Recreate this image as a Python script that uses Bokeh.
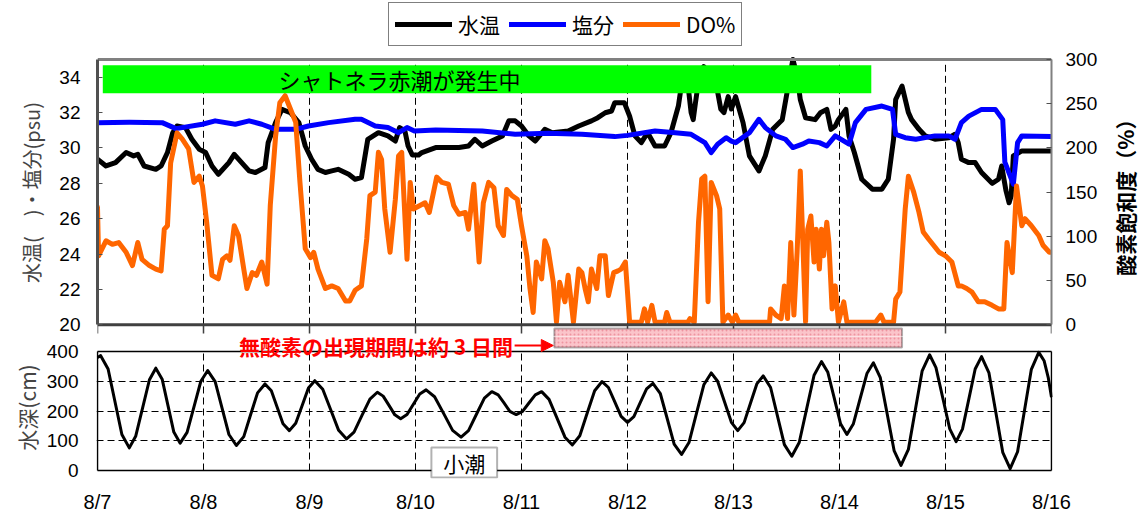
import math
from bokeh.plotting import figure
from bokeh.models import (Range1d, LinearAxis, FixedTicker, Legend, LegendItem,
                          BoxAnnotation, Label, Arrow, NormalHead)
from bokeh.layouts import column, row
from bokeh.core.properties import value
from bokeh.embed import file_html
from bokeh.resources import INLINE

# ---------------- data ----------------
day_ticks = [0, 1, 2, 3, 4, 5, 6, 7, 8, 9]
day_labels = ["8/7", "8/8", "8/9", "8/10", "8/11", "8/12", "8/13", "8/14", "8/15", "8/16"]
temp_ticks = [20, 22, 24, 26, 28, 30, 32, 34]
do_ticks = [0, 50, 100, 150, 200, 250, 300]
depth_ticks = [0, 100, 200, 300, 400]
series_names = ["水温", "塩分", "DO%"]

temp_day = [0.00, 0.08, 0.17, 0.27, 0.34, 0.38, 0.44, 0.55, 0.60, 0.66, 0.71, 0.75, 0.83, 0.89, 0.96,
            1.02, 1.08, 1.14, 1.24, 1.29, 1.36, 1.43, 1.49, 1.58, 1.61, 1.68, 1.74, 1.82, 1.90, 1.96,
            2.02, 2.08, 2.15, 2.21, 2.27, 2.37, 2.43, 2.49, 2.55, 2.65, 2.74, 2.81, 2.85, 2.90, 2.93,
            2.97, 3.03, 3.06, 3.19, 3.41, 3.50, 3.56, 3.63, 3.72, 3.82, 3.88, 3.94, 4.00, 4.07, 4.13,
            4.22, 4.29, 4.44, 4.54, 4.66, 4.72, 4.79, 4.85, 4.88, 4.97, 5.02, 5.07, 5.13, 5.19, 5.26,
            5.35, 5.41, 5.48, 5.52, 5.57, 5.60, 5.62, 5.64, 5.68, 5.72, 5.78, 5.84, 5.88, 5.91, 5.95,
            5.98, 6.02, 6.09, 6.15, 6.24, 6.30, 6.37, 6.46, 6.51, 6.56, 6.60, 6.63, 6.68, 6.77, 6.82,
            6.88, 6.92, 6.96, 6.99, 7.06, 7.09, 7.14, 7.21, 7.31, 7.40, 7.46, 7.51, 7.53, 7.59, 7.65,
            7.68, 7.75, 7.81, 7.90, 8.03, 8.09, 8.12, 8.15, 8.22, 8.28, 8.34, 8.44, 8.50, 8.53, 8.57,
            8.60, 8.62, 8.64, 8.72, 9.00]
temp_c = [29.36, 28.98, 29.17, 29.74, 29.55, 29.64, 28.98, 28.79, 28.98, 29.74, 30.86, 31.24, 31.15, 30.49, 29.92,
          29.74, 28.98, 28.51, 29.17, 29.64, 29.17, 28.70, 28.61, 28.89, 30.30, 31.43, 32.18, 31.99, 31.43, 30.11,
          29.36, 28.79, 28.61, 28.70, 28.79, 28.51, 28.23, 28.32, 30.49, 30.86, 30.68, 30.39, 31.15, 30.96, 30.11,
          29.60, 29.60, 29.74, 30.02, 30.02, 30.11, 30.49, 30.11, 30.39, 30.68, 31.53, 31.53, 31.24, 30.68, 30.39,
          31.05, 30.86, 30.96, 31.24, 31.53, 31.71, 31.99, 32.09, 32.56, 32.56, 31.80, 30.68, 30.30, 30.86, 30.11,
          30.11, 30.86, 32.37, 34.00, 33.60, 32.00, 31.60, 32.50, 34.20, 34.60, 34.00, 33.50, 32.20, 32.00, 32.90,
          32.20, 32.90, 31.43, 29.55, 28.70, 29.55, 31.05, 31.60, 33.30, 35.00, 34.10, 32.74, 31.71, 31.60, 31.99,
          32.18, 31.05, 31.24, 31.60, 32.18, 30.68, 29.74, 28.23, 27.67, 27.67, 28.23, 30.49, 32.74, 33.50, 32.00,
          31.60, 31.05, 30.68, 30.49, 30.58, 30.77, 30.30, 29.36, 29.17, 29.17, 28.61, 28.00, 28.23, 28.98, 27.60,
          26.90, 27.30, 29.55, 29.83, 29.83]

sal_day = [0.00, 0.30, 0.61, 0.74, 0.99, 1.11, 1.30, 1.43, 1.55, 1.68, 1.87, 1.99, 2.18, 2.43, 2.49,
           2.62, 2.74, 2.84, 2.92, 2.99, 3.19, 3.63, 3.94, 4.25, 4.57, 4.88, 5.00, 5.26, 5.45, 5.60,
           5.73, 5.79, 5.85, 5.93, 5.98, 6.02, 6.15, 6.24, 6.30, 6.40, 6.49, 6.56, 6.65, 6.71, 6.81,
           6.88, 6.96, 7.09, 7.15, 7.25, 7.40, 7.50, 7.53, 7.62, 7.72, 7.90, 8.03, 8.09, 8.15, 8.22,
           8.34, 8.47, 8.54, 8.56, 8.64, 8.68, 8.72, 9.00]
sal_psu = [31.43, 31.45, 31.43, 31.09, 31.34, 31.53, 31.34, 31.53, 31.34, 31.05, 31.05, 31.24, 31.43, 31.62, 31.62,
           31.24, 31.15, 30.86, 31.15, 30.96, 31.02, 30.96, 30.77, 30.83, 30.77, 30.64, 30.71, 30.96, 30.86, 30.77,
           30.30, 29.74, 30.21, 30.58, 30.39, 30.30, 30.86, 31.62, 31.15, 30.68, 30.49, 30.02, 30.21, 30.39, 30.30,
           30.11, 30.68, 30.21, 31.43, 32.18, 32.37, 32.18, 30.77, 30.58, 30.49, 30.68, 30.68, 30.49, 31.43, 31.80,
           32.18, 32.18, 31.60, 29.20, 27.95, 30.30, 30.68, 30.64]

do_day = [0.00, 0.01, 0.08, 0.14, 0.20, 0.27, 0.33, 0.38, 0.42, 0.49, 0.55, 0.60, 0.63, 0.66, 0.69,
          0.75, 0.80, 0.86, 0.91, 0.96, 0.99, 1.03, 1.08, 1.14, 1.18, 1.22, 1.25, 1.29, 1.33, 1.38,
          1.41, 1.46, 1.50, 1.55, 1.60, 1.63, 1.68, 1.72, 1.77, 1.82, 1.87, 1.91, 1.96, 2.01, 2.04,
          2.08, 2.15, 2.21, 2.27, 2.34, 2.38, 2.43, 2.49, 2.54, 2.57, 2.62, 2.65, 2.68, 2.71, 2.76,
          2.81, 2.84, 2.87, 2.92, 2.95, 2.98, 3.09, 3.13, 3.20, 3.25, 3.31, 3.36, 3.41, 3.47, 3.50,
          3.55, 3.60, 3.64, 3.69, 3.74, 3.78, 3.83, 3.86, 3.91, 3.96, 4.00, 4.05, 4.08, 4.11, 4.14,
          4.19, 4.22, 4.25, 4.30, 4.33, 4.36, 4.41, 4.44, 4.49, 4.54, 4.57, 4.60, 4.63, 4.66, 4.71,
          4.74, 4.79, 4.82, 4.87, 4.91, 4.94, 4.98, 5.02, 5.13, 5.16, 5.19, 5.23, 5.26, 5.35, 5.37,
          5.40, 5.57, 5.59, 5.63, 5.67, 5.70, 5.73, 5.76, 5.79, 5.84, 5.87, 5.90, 5.95, 5.99, 6.02,
          6.05, 6.34, 6.35, 6.40, 6.45, 6.48, 6.51, 6.54, 6.57, 6.60, 6.63, 6.65, 6.68, 6.70, 6.73,
          6.76, 6.78, 6.81, 6.83, 6.85, 6.88, 6.90, 6.93, 6.96, 6.99, 7.04, 7.07, 7.34, 7.39, 7.42,
          7.51, 7.53, 7.57, 7.62, 7.65, 7.70, 7.75, 7.79, 7.84, 7.94, 8.00, 8.06, 8.12, 8.15, 8.20,
          8.25, 8.31, 8.37, 8.44, 8.50, 8.55, 8.58, 8.63, 8.67, 8.72, 8.75, 8.81, 8.88, 8.92, 8.98,
          9.00]
do_pct = [133, 78, 95, 91, 93, 82, 67, 93, 74, 67, 63, 61, 108, 112, 183,
          217, 210, 199, 161, 168, 157, 116, 56, 52, 74, 78, 73, 112, 101, 63,
          41, 59, 56, 71, 46, 135, 213, 251, 259, 244, 229, 161, 86, 76, 82,
          63, 41, 44, 41, 27, 27, 39, 44, 97, 146, 150, 195, 187, 131, 82,
          142, 191, 195, 74, 161, 131, 138, 127, 167, 161, 159, 135, 125, 127, 108,
          159, 71, 138, 161, 155, 112, 101, 153, 146, 142, 112, 78, 41, 14, 71,
          52, 95, 86, 48, 3, 48, 26, 56, 3, 63, 59, 41, 26, 63, 41,
          78, 78, 33, 59, 61, 63, 71, 3, 3, 18, 3, 22, 3, 3, 14,
          3, 3, 7, 3, 116, 165, 168, 26, 161, 146, 131, 3, 11, 3, 11,
          3, 3, 18, 11, 7, 44, 7, 93, 11, 82, 174, 108, 3, 108, 123,
          71, 108, 63, 108, 78, 116, 93, 18, 44, 3, 26, 3, 3, 11, 3,
          3, 29, 37, 131, 168, 150, 127, 105, 97, 82, 78, 71, 44, 44, 41,
          37, 26, 26, 22, 18, 18, 93, 59, 157, 112, 120, 112, 101, 90, 82,
          82]

tide_day = [0.00, 0.03, 0.10, 0.165, 0.23, 0.30, 0.36, 0.425, 0.49, 0.55, 0.61, 0.665, 0.72, 0.78,
            0.845, 0.91, 0.975, 1.04, 1.11, 1.175, 1.24, 1.31, 1.38, 1.445, 1.51, 1.58, 1.64, 1.695,
            1.75, 1.81, 1.87, 1.93, 1.99, 2.05, 2.125, 2.20, 2.275, 2.35, 2.42, 2.495, 2.57, 2.64,
            2.695, 2.75, 2.805, 2.86, 2.92, 2.98, 3.04, 3.10, 3.18, 3.265, 3.35, 3.43, 3.50, 3.575,
            3.65, 3.72, 3.78, 3.835, 3.89, 3.95, 4.01, 4.07, 4.13, 4.19, 4.26, 4.335, 4.41, 4.48,
            4.55, 4.62, 4.69, 4.76, 4.82, 4.88, 4.94, 5.00, 5.06, 5.12, 5.18, 5.24, 5.31, 5.375,
            5.44, 5.51, 5.58, 5.65, 5.72, 5.79, 5.85, 5.915, 5.98, 6.04, 6.10, 6.16, 6.22, 6.28,
            6.35, 6.415, 6.48, 6.55, 6.62, 6.69, 6.76, 6.83, 6.89, 6.95, 7.01, 7.07, 7.13, 7.195,
            7.26, 7.32, 7.385, 7.45, 7.515, 7.58, 7.65, 7.715, 7.78, 7.85, 7.91, 7.975, 8.04, 8.10,
            8.16, 8.22, 8.28, 8.34, 8.41, 8.475, 8.54, 8.61, 8.68, 8.745, 8.81, 8.88, 8.93, 8.97,
            9.00]
tide_cm = [380, 386, 341, 231, 121, 76, 115, 210, 305, 344, 307, 218, 129, 92,
           128, 214, 300, 336, 299, 210, 121, 84, 114, 188, 261, 291, 268, 213,
           157, 134, 159, 218, 277, 302, 273, 204, 135, 106, 129, 185, 240, 263,
           250, 219, 187, 174, 188, 223, 257, 271, 248, 192, 135, 112, 134, 189,
           243, 265, 254, 227, 199, 188, 199, 227, 254, 265, 239, 176, 112, 86,
           117, 193, 268, 299, 279, 231, 182, 162, 181, 228, 274, 293, 258, 174,
           89, 54, 94, 191, 288, 328, 300, 231, 162, 134, 161, 226, 291, 318,
           279, 183, 87, 48, 94, 207, 320, 366, 330, 244, 157, 121, 156, 242,
           327, 362, 312, 190, 67, 17, 71, 203, 335, 389, 346, 243, 140, 97,
           139, 240, 341, 383, 328, 195, 61, 6, 63, 202, 340, 397, 369, 311,
           246]

# ---------------- layout constants (page pixels) ----------------
JP = "Noto Sans CJK JP"
NUM = "Liberation Sans"
TOTAL_W = 1141
FRAME_W = 954
LEFT = 97
RIGHT = TOTAL_W - LEFT - FRAME_W
RLABEL_W = 31                      # strip holding the right axis title
TOP_RIGHT = RIGHT - RLABEL_W
DAY_PX = FRAME_W / 9.0
SERIES_COLORS = ["black", "#0000FF", "#FF6600"]

LEG_BOTTOM = 48      # legend strip: 0..48
SPLIT = 336          # boundary between upper and lower canvases
T20_PX, T35_PX = 324.3, 59.0
T_PER_PX = 15.0 / (T20_PX - T35_PX)
def temp_at(py):
    return 20 + (T20_PX - py) * T_PER_PX
def do_at(py):
    return (T20_PX - py) * 300.0 / (T20_PX - T35_PX)
CM_PER_PX = 400.0 / (470 - 351)
def cm_at(py):
    return (470 - py) * CM_PER_PX

# ---------------- legend strip ----------------
leg = figure(frame_width=TOTAL_W, frame_height=LEG_BOTTOM, x_range=Range1d(-100, -99),
             y_range=Range1d(-100, -99), min_border=0, x_axis_location=None,
             y_axis_location=None, output_backend="svg", toolbar_location=None)
leg.outline_line_color = None
leg.grid.grid_line_color = None
leg_items = []
for name, col, xs, ys in zip(series_names, SERIES_COLORS,
                             [temp_day, sal_day, do_day], [temp_c, sal_psu, do_pct]):
    r = leg.line(xs, ys, line_color=col, line_width=5, line_cap="round")
    leg_items.append(LegendItem(label=name, renderers=[r]))
legend = Legend(items=leg_items, orientation="horizontal", location=(388, LEG_BOTTOM - 46))
legend.label_text_font = JP
legend.label_text_font_size = "21px"
legend.label_text_color = "black"
legend.glyph_width = 57
legend.glyph_height = 24
legend.label_height = 24
legend.label_standoff = 6
legend.spacing = 9
legend.padding = 6
legend.margin = 0
legend.border_line_color = "black"
legend.border_line_width = 1.5
legend.background_fill_color = "white"
legend.background_fill_alpha = 1
leg.add_layout(legend)

# ---------------- upper panel ----------------
top = figure(frame_width=FRAME_W, frame_height=SPLIT - LEG_BOTTOM,
             x_range=Range1d(0, 9), y_range=Range1d(temp_at(SPLIT), temp_at(LEG_BOTTOM)),
             min_border_left=LEFT, min_border_right=TOP_RIGHT, min_border_top=0, min_border_bottom=0,
             x_axis_location=None, output_backend="svg", toolbar_location=None)
top.extra_y_ranges = {"do": Range1d(do_at(SPLIT), do_at(LEG_BOTTOM))}
top.outline_line_color = None
top.grid.grid_line_color = None

top.yaxis.bounds = (20, 35)
top.yaxis.ticker = FixedTicker(ticks=temp_ticks)
top.yaxis.axis_label = "水温(　)・塩分(psu)"
top.yaxis.axis_label_text_font = JP
top.yaxis.axis_label_text_font_size = "20px"
top.yaxis.axis_label_text_font_style = "normal"
top.yaxis.axis_label_standoff = 10
top.yaxis.major_label_text_font = NUM
top.yaxis.major_label_text_font_size = "19px"
top.yaxis.major_label_text_color = "black"
top.yaxis.major_label_standoff = 17
top.yaxis.major_tick_in = 5
top.yaxis.major_tick_out = 0
top.yaxis.minor_tick_in = 0
top.yaxis.minor_tick_out = 0
top.yaxis.axis_line_color = "#505050"
top.yaxis.axis_line_width = 3
top.yaxis.major_tick_line_color = "#505050"

rax = LinearAxis(y_range_name="do", ticker=FixedTicker(ticks=do_ticks), bounds=(0, 300))
rax.major_label_text_font = NUM
rax.major_label_text_font_size = "19px"
rax.major_label_text_color = "black"
rax.major_label_standoff = 14
rax.major_tick_in = 5
rax.major_tick_out = 0
rax.minor_tick_in = 0
rax.minor_tick_out = 0
rax.axis_line_color = "#808080"
rax.axis_line_width = 2
rax.major_tick_line_color = "#505050"
top.add_layout(rax, "right")

x0, x9 = day_ticks[0], day_ticks[-1]
inner = day_ticks[1:-1]
t_lo, t_hi = 20, 35
top.segment(x0=inner, y0=[t_lo] * len(inner), x1=inner, y1=[t_hi] * len(inner),
            line_color="black", line_width=1, line_dash="7 4")

top.line(temp_day, temp_c, line_color=SERIES_COLORS[0], line_width=5,
         line_join="round", line_cap="round")
top.line(sal_day, sal_psu, line_color=SERIES_COLORS[1], line_width=5,
         line_join="round", line_cap="round")
top.line(do_day, do_pct, line_color=SERIES_COLORS[2], line_width=5,
         line_join="round", line_cap="round", y_range_name="do")

top.segment(x0=[x0], y0=[t_hi], x1=[x9], y1=[t_hi], line_color="#808080", line_width=3)
top.segment(x0=[x0], y0=[t_lo], x1=[x9], y1=[t_lo], line_color="#404040", line_width=3)
top.segment(x0=day_ticks, y0=[t_lo] * len(day_ticks), x1=day_ticks,
            y1=[temp_at(333)] * len(day_ticks), line_color="#404040", line_width=1.5)

top.add_layout(BoxAnnotation(left=0.05, right=7.30, bottom=33.09, top=34.67,
                             fill_color="#00FF00", fill_alpha=1, line_color=None))
top.add_layout(Label(x=2.85, y=33.88, text="シャトネラ赤潮が発生中",
                     text_font=JP, text_font_size="22px", text_color="black",
                     text_align="center", text_baseline="middle"))

PINK = dict(fill_color="#FBC4CA", fill_alpha=1, hatch_pattern="dot", hatch_color="#E8808E",
            hatch_scale=4, hatch_alpha=0.7, line_color="black", line_width=2)
top.add_layout(BoxAnnotation(left=4.31, right=7.59, top=temp_at(328), bottom=temp_at(360), **PINK))

# right axis title strip (page-pixel coordinates)
rlab = figure(frame_width=RLABEL_W, frame_height=SPLIT - LEG_BOTTOM,
              x_range=Range1d(TOTAL_W - RLABEL_W, TOTAL_W), y_range=Range1d(SPLIT, LEG_BOTTOM),
              min_border=0, x_axis_location=None, y_axis_location=None,
              output_backend="svg", toolbar_location=None)
rlab.outline_line_color = None
rlab.grid.grid_line_color = None
rlab.text(x=[1124], y=[(T20_PX + T35_PX) / 2], text=["酸素飽和度（%）"], angle=math.pi / 2,
          text_font=value(JP), text_font_size="21px", text_font_style="bold",
          text_color="black", text_align="center", text_baseline="middle")

# ---------------- lower panel ----------------
pad = 1.0 / DAY_PX
bot = figure(frame_width=FRAME_W + 2, frame_height=478 - SPLIT,
             x_range=Range1d(-pad, 9 + pad), y_range=Range1d(cm_at(478), cm_at(SPLIT)),
             min_border_left=LEFT - 1, min_border_right=RIGHT - 1,
             min_border_top=0, min_border_bottom=516 - 478,
             output_backend="svg", toolbar_location=None)
bot.outline_line_color = None

bot.xaxis.ticker = FixedTicker(ticks=day_ticks)
bot.xaxis.major_label_overrides = {t: s for t, s in zip(day_ticks, day_labels)}
bot.xaxis.major_label_text_font = NUM
bot.xaxis.major_label_text_font_size = "20px"
bot.xaxis.major_label_text_color = "black"
bot.xaxis.major_label_standoff = 12
bot.xaxis.major_tick_in = 0
bot.xaxis.major_tick_out = 0
bot.xaxis.minor_tick_in = 0
bot.xaxis.minor_tick_out = 0
bot.xaxis.axis_line_color = None

bot.yaxis.bounds = (0, 400)
bot.yaxis.ticker = FixedTicker(ticks=depth_ticks)
bot.yaxis.axis_label = "水深(cm)"
bot.yaxis.axis_label_text_font = JP
bot.yaxis.axis_label_text_font_size = "21px"
bot.yaxis.axis_label_text_font_style = "normal"
bot.yaxis.axis_label_standoff = 2
bot.yaxis.major_label_text_font = NUM
bot.yaxis.major_label_text_font_size = "19px"
bot.yaxis.major_label_text_color = "black"
bot.yaxis.major_label_standoff = 18
bot.yaxis.major_tick_in = 0
bot.yaxis.major_tick_out = 0
bot.yaxis.minor_tick_in = 0
bot.yaxis.minor_tick_out = 0
bot.yaxis.axis_line_color = None

bot.xgrid.grid_line_color = None
bot.ygrid.ticker = FixedTicker(ticks=depth_ticks[1:-1])
bot.ygrid.grid_line_color = "black"
bot.ygrid.grid_line_width = 1
bot.ygrid.grid_line_dash = "7 4"

d0, d4 = depth_ticks[0], depth_ticks[-1]
bot.segment(x0=inner, y0=[d0] * len(inner), x1=inner, y1=[d4] * len(inner),
            line_color="black", line_width=1, line_dash="7 4")

bot.line(tide_day, tide_cm, line_color="black", line_width=3, line_join="round")

bot.segment(x0=[x0, x9, x0, x0], y0=[d0, d0, d0, d4], x1=[x0, x9, x9, x9], y1=[d4, d4, d0, d4],
            line_color="black", line_width=1.5)

bot.add_layout(BoxAnnotation(left=4.31, right=7.59, top=cm_at(320), bottom=cm_at(347), **PINK))
bot.add_layout(Label(x=3.92, y=cm_at(345.5), text="無酸素の出現期間は約 3 日間",
                     text_font=JP, text_font_size="21px", text_font_style="bold",
                     text_color="#FF0000", text_align="right", text_baseline="middle"))
bot.add_layout(Arrow(x_start=3.935, y_start=cm_at(345), x_end=4.30, y_end=cm_at(345),
                     line_color="#FF0000", line_width=2,
                     end=NormalHead(size=12, fill_color="#FF0000", line_color="#FF0000")))

bot.add_layout(BoxAnnotation(left=3.15, right=3.77, bottom=cm_at(477), top=cm_at(447),
                             fill_color="white", fill_alpha=1,
                             line_color="black", line_width=2))
bot.add_layout(Label(x=3.46, y=cm_at(462), text="小潮", text_font=JP, text_font_size="21px",
                     text_color="black", text_align="center", text_baseline="middle"))

layout = column(leg, row(top, rlab, spacing=0), bot, spacing=0)
open("out.html", "w").write(file_html(layout, INLINE))
